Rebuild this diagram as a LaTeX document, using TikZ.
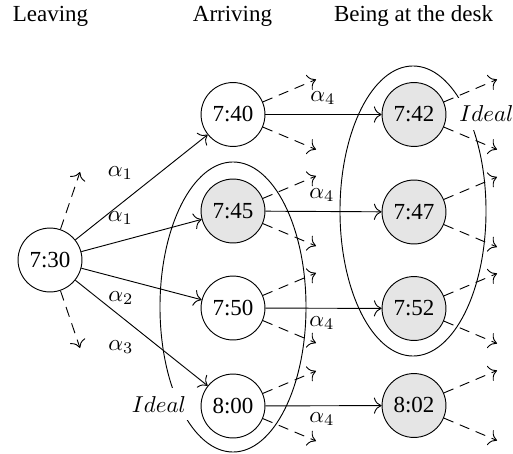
\documentclass[tikz,border=0pt]{standalone}
\usepackage{fontspec}
\setmainfont{Liberation Serif}
\usetikzlibrary{arrows.meta}
\begin{document}
\begin{tikzpicture}[x=0.435pt,y=-0.435pt,
  >={To[scale=1.35]},
  st/.style={circle,draw,minimum size=27.8pt,inner sep=0pt},
  gr/.style={st,fill=gray!20},
  hd/.style={anchor=base},
  lbl/.style={inner sep=0pt},
  arr/.style={->},
  darr/.style={->,dash pattern=on 4.5pt off 3pt},
  idl/.style={fill=white,anchor=base}]
\useasboundingbox (0,0) rectangle (513,454);
% headers
\node[hd] (h1) at (50.5,22) {Leaving};
\node[hd] (h2) at (232.5,22) {Arriving};
\node[hd] (h3) at (413.5,22) {Being at the desk};
% ellipses
\draw (233,307) ellipse [x radius=31.76pt, y radius=63.08pt];
\draw (413,211) ellipse [x radius=31.76pt, y radius=63.08pt];
\node[idl] (i1) at (159,412) {$Ideal$};
\node[idl] (i2) at (486.5,122) {$Ideal$};
% nodes
\node[st] (a730) at (50,260) {7:30};
\node[st] (a740) at (233,114.5) {7:40};
\node[gr] (a745) at (233,211) {7:45};
\node[st] (a750) at (233,308) {7:50};
\node[st] (a800) at (233,406) {8:00};
\node[gr] (d742) at (414,114.5) {7:42};
\node[gr] (d747) at (414,212) {7:47};
\node[gr] (d752) at (414,308.5) {7:52};
\node[gr] (d802) at (414,405.5) {8:02};
% edges from 7:30
\draw[arr] (a730) -- (a740);
\draw[arr] (a730) -- (a745);
\draw[arr] (a730) -- (a750);
\draw[arr] (a730) -- (a800);
\node[lbl] (l1) at (120.5,173) {$\alpha_1$};
\node[lbl] (l2) at (120.5,218) {$\alpha_1$};
\node[lbl] (l3) at (121,298) {$\alpha_2$};
\node[lbl] (l4) at (121,347) {$\alpha_3$};
% alpha4 edges
\draw[arr] (a740) -- (d742);
\draw[arr] (a745) -- (d747);
\draw[arr] (a750) -- (d752);
\draw[arr] (a800) -- (d802);
\node[lbl] (m1) at (323,98) {$\alpha_4$};
\node[lbl] (m2) at (322,195) {$\alpha_4$};
\node[lbl] (m3) at (322,323) {$\alpha_4$};
\node[lbl] (m4) at (322,419) {$\alpha_4$};
% dashed arrows
\coordinate (t1) at (80,172);
\coordinate (t2) at (80,348);
\draw[darr] (a730) -- (t1);
\draw[darr] (a730) -- (t2);
\foreach \n in {a740,a745,a750,a800,d742,d747,d752,d802}{
  \path (\n) ++(83,-35) coordinate (\n-u);
  \path (\n) ++(83,35) coordinate (\n-d);
  \draw[darr] (\n) -- (\n-u);
  \draw[darr] (\n) -- (\n-d);
}
\end{tikzpicture}
\end{document}
